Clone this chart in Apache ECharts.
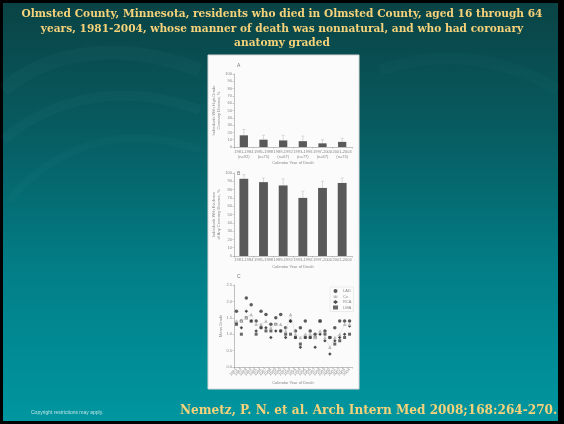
<!DOCTYPE html>
<html><head><meta charset="utf-8">
<script src="https://cdn.jsdelivr.net/npm/echarts@6/dist/echarts.min.js"></script>
<style>html,body{margin:0;padding:0;background:#000;}#c{width:564px;height:424px;}</style>
</head><body><div id="c"></div>
<script>
// ---- data ----
const periods = ['1981-1984','1985-1988','1989-1992','1993-1996','1997-2000','2001-2004'];
const nCounts = [92, 75, 67, 77, 67, 74];
const highGradePct = [16, 10, 9, 8, 5, 7];
const highGradeUpper = [24, 16, 16, 15, 10, 12];
const anyDiseasePct = [93, 89, 85, 70, 82, 88];
const anyDiseaseUpper = [98, 94, 93, 78, 90, 94];
const years = ['1981','1982','1983','1984','1985','1986','1987','1988','1989','1990','1991','1992',
               '1993','1994','1995','1996','1997','1998','1999','2000','2001','2002','2003','2004'];
const gradeLAD = [1.7,1.4,2.1,1.9,1.4,1.7,1.6,1.3,1.5,1.6,1.2,1.4,1.1,1.2,1.4,1.1,1.0,1.4,1.1,0.9,1.2,1.4,1.4,1.4];
const gradeCx  = [1.4,1.4,1.5,1.6,1.3,1.3,1.4,1.2,1.3,1.3,1.1,1.6,1.0,0.9,1.0,1.0,0.9,1.1,0.9,0.6,0.9,1.0,1.3,1.3];
const gradeRCA = [1.35,1.2,1.7,1.4,1.1,1.2,1.2,0.9,1.1,1.1,0.9,1.4,0.9,0.6,0.9,0.9,0.6,1.0,0.8,0.4,0.8,0.9,1.0,1.25];
const gradeLM  = [1.3,1.0,1.5,1.4,1.0,1.2,1.1,1.1,1.3,1.1,1.0,1.0,0.9,0.7,0.9,0.9,0.9,1.4,1.0,0.9,0.7,0.8,0.9,1.0];
const titleText = 'Olmsted County, Minnesota, residents who died in Olmsted County, aged 16 through 64\nyears, 1981-2004, whose manner of death was nonnatural, and who had coronary\nanatomy graded';
const citation = 'Nemetz, P. N. et al. Arch Intern Med 2008;168:264-270.';
const copyright = 'Copyright restrictions may apply.';

const chart = echarts.init(document.getElementById('c'));
const tiny = {fontSize: 4, color: '#888', fontFamily: 'Liberation Sans'};
const axLine = {lineStyle: {color: '#999', width: 0.6}};
const tickSt = {show: true, lineStyle: {color: '#999', width: 0.5}, length: 1.5};

function errSeries(xi, yi, lower, upper) {
  return {
    type: 'custom', xAxisIndex: xi, yAxisIndex: yi, silent: true, z: 1,
    data: lower.map((v, i) => [i, v, upper[i]]),
    renderItem: function (params, api) {
      const p0 = api.coord([api.value(0), api.value(1)]);
      const p1 = api.coord([api.value(0), api.value(2)]);
      return {type: 'group', children: [
        {type: 'line', shape: {x1: p0[0], y1: p0[1], x2: p1[0], y2: p1[1]}, style: {stroke: '#c4c4c4', lineWidth: 0.6}},
        {type: 'line', shape: {x1: p1[0] - 1.5, y1: p1[1], x2: p1[0] + 1.5, y2: p1[1]}, style: {stroke: '#c4c4c4', lineWidth: 0.6}}
      ]};
    }
  };
}

function swoosh(x1, y1, c1x, c1y, c2x, c2y, x2, y2, w, op) {
  return {type: 'bezierCurve', z: -9, silent: true,
          shape: {x1: x1, y1: y1, cpx1: c1x, cpy1: c1y, cpx2: c2x, cpy2: c2y, x2: x2, y2: y2},
          style: {fill: 'none', stroke: 'rgba(120,200,200,' + op + ')', lineWidth: w}};
}

const option = {
  animation: false,
  graphic: [
    {type: 'rect', z: -10, silent: true, shape: {x: 3, y: 3, width: 555, height: 418},
     style: {fill: new echarts.graphic.LinearGradient(0, 0, 0, 1, [
       {offset: 0, color: '#0a4345'}, {offset: 0.3, color: '#075b60'},
       {offset: 0.65, color: '#027f88'}, {offset: 1, color: '#0096a0'}])}},
    swoosh(3, 90, 50, 50, 120, 40, 200, 70, 14, 0.04),
    swoosh(3, 140, 50, 100, 120, 80, 200, 110, 10, 0.04),
    swoosh(10, 200, 50, 150, 120, 120, 200, 150, 8, 0.035),
    swoosh(380, 70, 440, 50, 500, 55, 558, 90, 12, 0.025),
    {type: 'text', z: 5, x: 282, y: 7, style: {text: titleText, align: 'center', verticalAlign: 'top',
      font: 'bold 10.6px "DejaVu Serif"', lineHeight: 14.5, fill: '#f6d27a'}},
    {type: 'text', z: 5, x: 180, y: 411, style: {text: citation, align: 'left', verticalAlign: 'middle',
      font: 'bold 12.1px "DejaVu Serif"', fill: '#f6d27a'}},
    {type: 'text', z: 5, x: 31, y: 413, style: {text: copyright, align: 'left', verticalAlign: 'middle',
      font: '5px "Liberation Sans"', fill: '#bfe6e6'}},
    {type: 'rect', z: -5, silent: true, shape: {x: 208, y: 55, width: 151, height: 334},
     style: {fill: '#fbfbfb', stroke: '#d8d8d8', lineWidth: 1}},
    {type: 'text', left: 237, top: 63, style: {text: 'A', fontSize: 5, fill: '#777', fontFamily: 'Liberation Sans'}},
    {type: 'text', left: 237, top: 171, style: {text: 'B', fontSize: 5, fill: '#777', fontFamily: 'Liberation Sans'}},
    {type: 'text', left: 237, top: 274, style: {text: 'C', fontSize: 5, fill: '#777', fontFamily: 'Liberation Sans'}}
  ],
  legend: {
    data: ['LAD', 'Cx', 'RCA', 'LMA'], orient: 'vertical', left: 330, top: 287,
    itemWidth: 5, itemHeight: 4, itemGap: 1.5, padding: 2,
    textStyle: {fontSize: 4, color: '#888'}, borderColor: '#ddd', borderWidth: 0.5
  },
  grid: [
    {left: 234, right: 212, top: 74, height: 73},
    {left: 234, right: 212, top: 173, height: 83},
    {left: 234, right: 212, top: 285, height: 82}
  ],
  xAxis: [
    {type: 'category', gridIndex: 0, data: periods.map((p, i) => p + '\n(n=' + nCounts[i] + ')'),
     axisLine: axLine, axisTick: tickSt,
     axisLabel: {...tiny, margin: 2, lineHeight: 5, interval: 0},
     name: 'Calendar Year of Death', nameLocation: 'middle', nameGap: 14, nameTextStyle: tiny},
    {type: 'category', gridIndex: 1, data: periods,
     axisLine: axLine, axisTick: tickSt,
     axisLabel: {...tiny, margin: 2, interval: 0},
     name: 'Calendar Year of Death', nameLocation: 'middle', nameGap: 9, nameTextStyle: tiny},
    {type: 'category', gridIndex: 2, data: years, boundaryGap: true,
     axisLine: axLine, axisTick: tickSt,
     axisLabel: {...tiny, margin: 2, rotate: 45, interval: 0},
     name: 'Calendar Year of Death', nameLocation: 'middle', nameGap: 14, nameTextStyle: tiny}
  ],
  yAxis: [
    {type: 'value', gridIndex: 0, min: 0, max: 100, interval: 10,
     axisLine: {show: true, ...axLine}, axisTick: tickSt,
     splitLine: {show: false}, axisLabel: {...tiny, margin: 2},
     name: 'Individuals With High-Grade\nCoronary Disease, %', nameLocation: 'middle', nameGap: 11,
     nameTextStyle: {...tiny, lineHeight: 5}},
    {type: 'value', gridIndex: 1, min: 0, max: 100, interval: 10,
     axisLine: {show: true, ...axLine}, axisTick: tickSt,
     splitLine: {show: false}, axisLabel: {...tiny, margin: 2},
     name: 'Individuals With Evidence\nof Any Coronary Disease, %', nameLocation: 'middle', nameGap: 11,
     nameTextStyle: {...tiny, lineHeight: 5}},
    {type: 'value', gridIndex: 2, min: 0, max: 2.5, interval: 0.5,
     axisLine: {show: true, ...axLine}, axisTick: tickSt,
     splitLine: {show: false}, axisLabel: {...tiny, margin: 2, formatter: v => v.toFixed(1)},
     name: 'Mean Grade', nameLocation: 'middle', nameGap: 11, nameTextStyle: tiny}
  ],
  series: [
    {type: 'bar', xAxisIndex: 0, yAxisIndex: 0, data: highGradePct, barWidth: '42%',
     itemStyle: {color: '#595959'}, z: 2},
    errSeries(0, 0, highGradePct, highGradeUpper),
    {type: 'bar', xAxisIndex: 1, yAxisIndex: 1, data: anyDiseasePct, barWidth: '45%',
     itemStyle: {color: '#595959'}, z: 2},
    errSeries(1, 1, anyDiseasePct, anyDiseaseUpper),
    {name: 'LAD', type: 'scatter', xAxisIndex: 2, yAxisIndex: 2, data: gradeLAD,
     symbol: 'circle', symbolSize: 3.5, itemStyle: {color: '#333'}},
    {name: 'Cx', type: 'line', xAxisIndex: 2, yAxisIndex: 2, data: gradeCx,
     symbol: 'triangle', symbolSize: 3.5, itemStyle: {color: '#bbb'}, lineStyle: {color: '#ddd', width: 0.6}},
    {name: 'RCA', type: 'scatter', xAxisIndex: 2, yAxisIndex: 2, data: gradeRCA,
     symbol: 'diamond', symbolSize: 3.5, itemStyle: {color: '#222'}},
    {name: 'LMA', type: 'scatter', xAxisIndex: 2, yAxisIndex: 2, data: gradeLM,
     symbol: 'rect', symbolSize: 3, itemStyle: {color: '#444'}}
  ]
};
chart.setOption(option);
</script></body></html>
